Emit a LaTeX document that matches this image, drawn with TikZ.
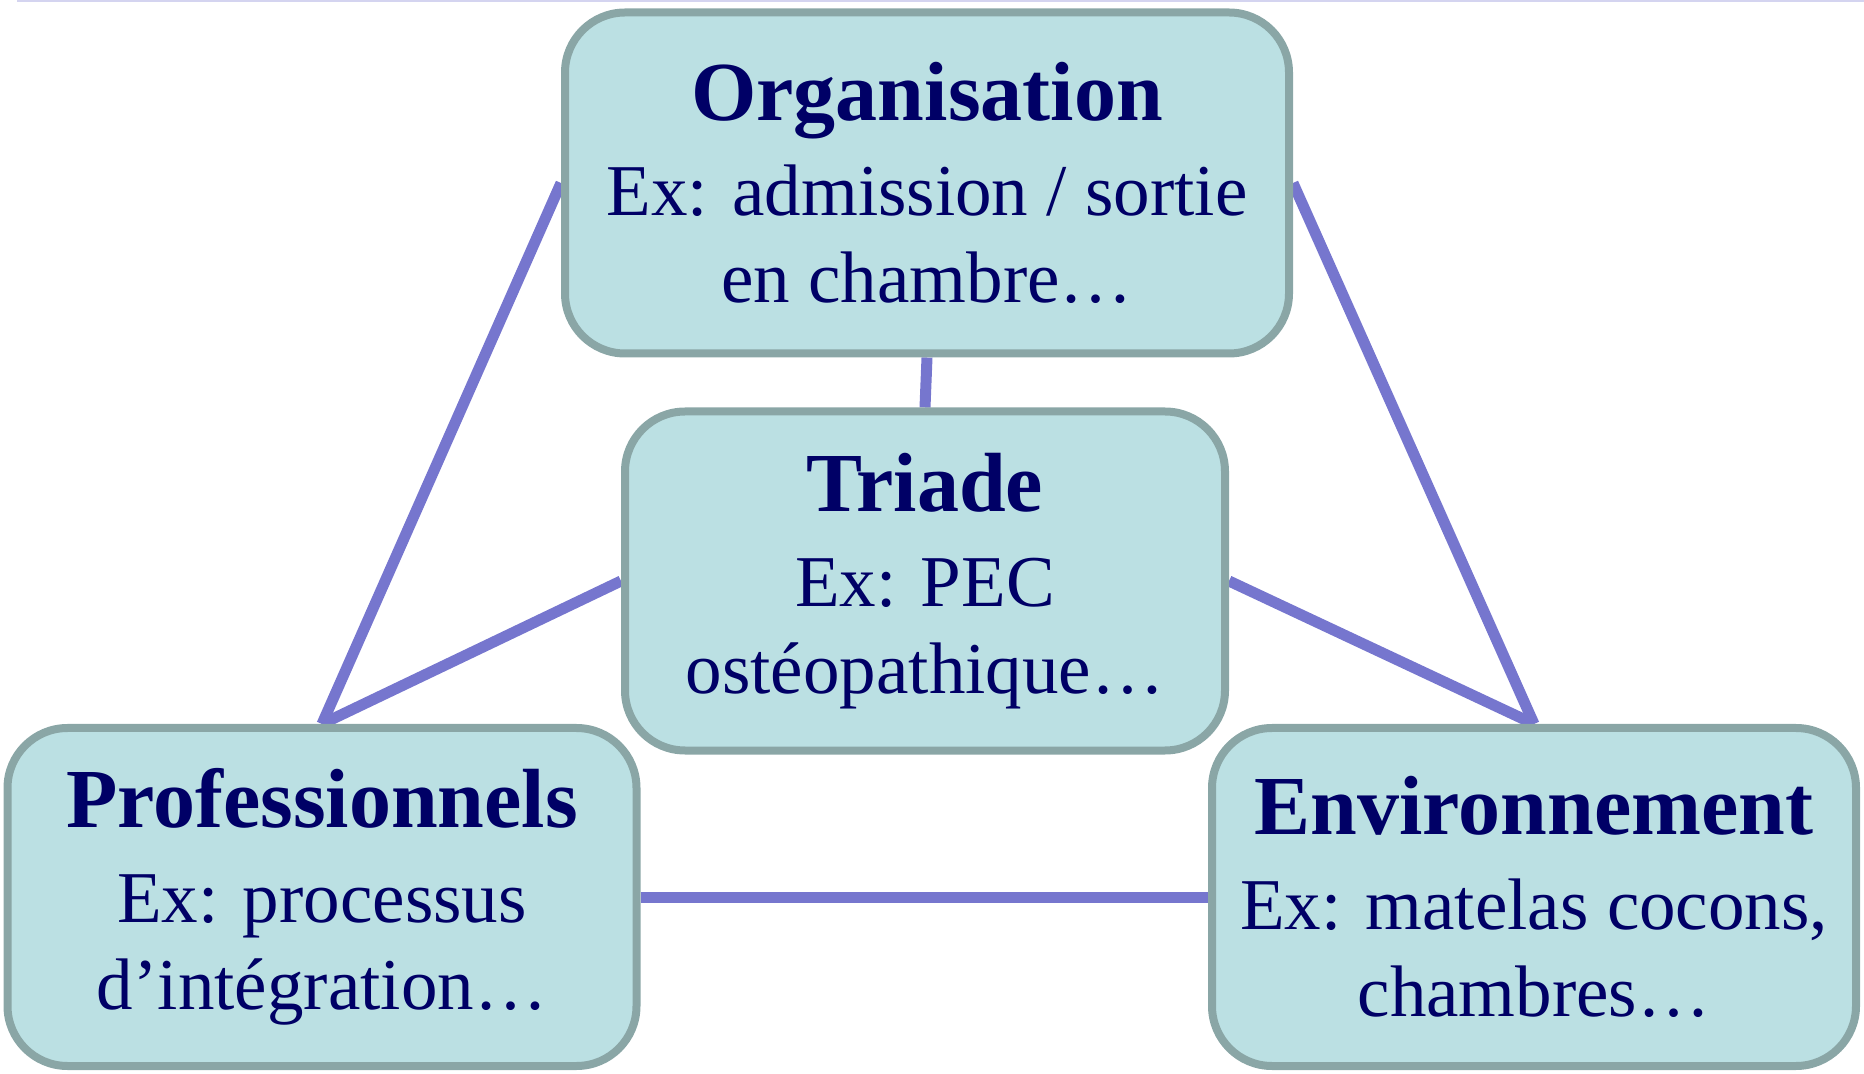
\documentclass[tikz,border=0pt]{standalone}
\usepackage{fontspec}
\setmainfont{Liberation Serif}
\usepackage{tikz}
\usetikzlibrary{positioning, backgrounds}
\definecolor{boxfill}{HTML}{BBE0E3}
\definecolor{boxline}{HTML}{8AA6A6}
\definecolor{linkcol}{HTML}{7676CE}
\definecolor{txtcol}{HTML}{000066}
\definecolor{rulecol}{HTML}{D4D4F0}
\tikzstyle{box}=[draw=boxline, fill=boxfill, line width=4pt, rounded corners=30pt, align=center, text=txtcol, inner sep=0pt, font=\fontsize{36.5}{43.5}\selectfont]
\tikzstyle{link}=[draw=linkcol, line width=5.5pt]
\newcommand{\boxtitle}[1]{{\fontsize{42}{47}\selectfont\bfseries #1}}

\begin{document}
\begin{tikzpicture}[x=0.5pt, y=-0.5pt]
\useasboundingbox (0,0) rectangle (1864,1074);
% the thin rule on top
\draw[rulecol, line width=1pt] (17,1) -- (1864,1);
% the four boxes
\node[box, minimum width=362pt, minimum height=170.5pt] (org) at (927,183)
  {\boxtitle{Organisation}\\[4pt] Ex: admission / sortie\\ en chambre…};
\node[box, minimum width=300pt, minimum height=169.5pt] (tri) at (925,581)
  {\boxtitle{Triade}\\[4pt] Ex: PEC\\ ostéopathique…};
\node[box, minimum width=314.5pt, minimum height=169pt] (pro) at (322,897)
  {\boxtitle{Professionnels}\\[4pt] Ex: processus\\ d’intégration…};
\node[box, minimum width=322pt, minimum height=169pt] (env) at (1534,897)
  {\boxtitle{Environnement}\\[4pt] Ex: matelas cocons,\\ chambres…};
% the links, behind the boxes
\begin{scope}[on background layer]
\draw[link] (org.west) -- (pro.north);
\draw[link] (org.east) -- (env.north);
\draw[link] (org.south) -- (tri.north);
\draw[link] (tri.west) -- (pro.north);
\draw[link] (tri.east) -- (env.north);
\draw[link] (pro.east) -- (env.west);
\end{scope}
\end{tikzpicture}
\end{document}
